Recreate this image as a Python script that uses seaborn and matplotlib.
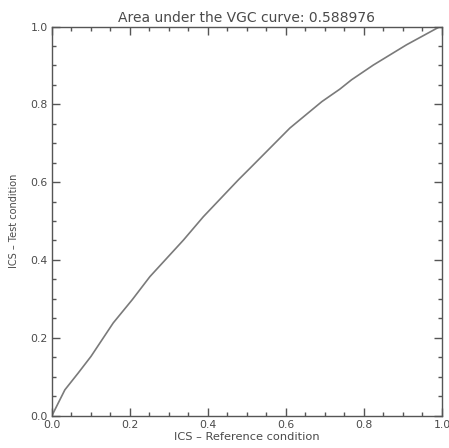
import matplotlib
matplotlib.use("Agg")
import matplotlib.pyplot as plt
import seaborn as sns
import pandas as pd
from matplotlib.ticker import MultipleLocator

# Data
ics_reference = [0.0, 0.033, 0.067, 0.10, 0.157, 0.206, 0.251, 0.337, 0.388, 0.478,
                 0.508, 0.610, 0.692, 0.738, 0.768, 0.824, 0.909, 0.995, 1.0]
ics_test = [0.0, 0.066, 0.109, 0.152, 0.238, 0.298, 0.357, 0.451, 0.511, 0.606,
            0.636, 0.739, 0.807, 0.839, 0.863, 0.901, 0.953, 1.0, 1.0]
title_text = "Area under the VGC curve: 0.588976"
x_label = "ICS \u2013 Reference condition"
y_label = "ICS \u2013 Test condition"

sns.set_theme(style="ticks")
plt.rcParams['font.family'] = ['DejaVu Sans']

df = pd.DataFrame({"ref": ics_reference, "test": ics_test})

fig = plt.figure(figsize=(4.49, 4.48), dpi=100)
ax = fig.add_axes([0.1158, 0.0725, 0.8686, 0.8683])
sns.lineplot(data=df, x="ref", y="test", ax=ax, color="#7a7a7a", linewidth=1.2,
             sort=False, estimator=None)

txt = "#4a4a4a"
ax.set_xlim(0, 1)
ax.set_ylim(0, 1)
ax.xaxis.set_major_locator(MultipleLocator(0.2))
ax.yaxis.set_major_locator(MultipleLocator(0.2))
ax.xaxis.set_minor_locator(MultipleLocator(0.05))
ax.yaxis.set_minor_locator(MultipleLocator(0.05))
ax.xaxis.set_major_formatter(matplotlib.ticker.FormatStrFormatter("%.1f"))
ax.yaxis.set_major_formatter(matplotlib.ticker.FormatStrFormatter("%.1f"))
ax.tick_params(which="both", direction="in", top=True, right=True,
               color="#555555", width=1.0, labelcolor=txt, labelsize=7.8)
ax.tick_params(which="major", length=6, pad=3)
ax.tick_params(which="minor", length=3)
for s in ax.spines.values():
    s.set_color("#555555")
    s.set_linewidth(1.0)
    s.set_visible(True)

ax.set_title(title_text, fontsize=10, color=txt, pad=3)
ax.set_xlabel(x_label, fontsize=8.2, color=txt, labelpad=1.5)
ax.set_ylabel(y_label, fontsize=7, color=txt, labelpad=8)

fig.savefig("out.png", dpi=100)
